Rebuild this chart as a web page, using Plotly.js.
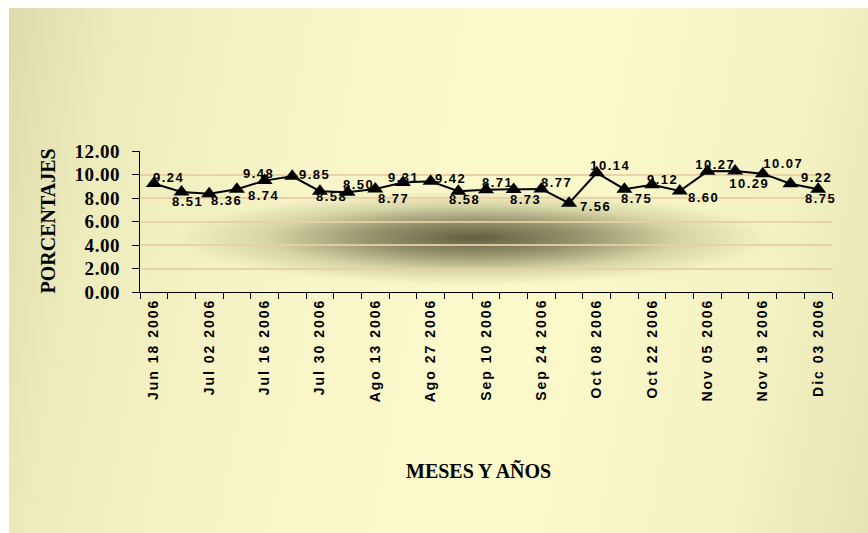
<!DOCTYPE html>
<html>
<head>
<meta charset="utf-8">
<script src="https://cdn.plot.ly/plotly-3.0.1.min.js"></script>
<style>
  html, body { margin: 0; padding: 0; background: #ffffff; }
  #wrap { position: relative; width: 868px; height: 533px; overflow: hidden; background: #ffffff; }
  #bg {
    position: absolute; left: 9px; top: 8px; width: 859px; height: 525px;
    background:
      radial-gradient(ellipse 345px 55px at 465px 230px, rgba(85,82,55,0.92) 0%, rgba(110,106,72,0.72) 30%, rgba(170,166,120,0.42) 60%, rgba(230,228,180,0.1) 85%, rgba(240,238,190,0) 100%),
      linear-gradient(100deg, #dcdbab 0%, #eeecbc 12%, #f8f6c9 35%, #fcfacb 60%, #f4f2c3 85%, #e6e4b5 100%);
  }
  #chart { position: absolute; left: 0; top: 0; width: 868px; height: 533px; }
  .xtick text { letter-spacing: 2px; }
  .ytick text { letter-spacing: 0.6px; }
  .annotation text { letter-spacing: 1.5px; }
  .annotation[data-index="0"] text, .annotation[data-index="1"] text { letter-spacing: 0px; }
</style>
</head>
<body>
<div id="wrap">
  <div id="bg"></div>
  <div id="chart"></div>
</div>
<script>
// Weekly categories (Jun 18 2006 – Dic 03 2006)
const weeks = [
  "Jun 18 2006", "Jun 25 2006", "Jul 02 2006", "Jul 09 2006", "Jul 16 2006",
  "Jul 23 2006", "Jul 30 2006", "Ago 06 2006", "Ago 13 2006", "Ago 20 2006",
  "Ago 27 2006", "Sep 03 2006", "Sep 10 2006", "Sep 17 2006", "Sep 24 2006",
  "Oct 01 2006", "Oct 08 2006", "Oct 15 2006", "Oct 22 2006", "Oct 29 2006",
  "Nov 05 2006", "Nov 12 2006", "Nov 19 2006", "Nov 26 2006", "Dic 03 2006"
];
// Labels shown on the x axis (every other week)
const tickLabels = [
  "Jun 18 2006", "", "Jul 02 2006", "", "Jul 16 2006",
  "", "Jul 30 2006", "", "Ago 13 2006", "",
  "Ago 27 2006", "", "Sep 10 2006", "", "Sep 24 2006",
  "", "Oct 08 2006", "", "Oct 22 2006", "",
  "Nov 05 2006", "", "Nov 19 2006", "", "Dic 03 2006"
];
// Percentages
const porcentajes = [
  9.24, 8.51, 8.36, 8.74, 9.48,
  9.85, 8.58, 8.50, 8.77, 9.31,
  9.42, 8.58, 8.71, 8.73, 8.77,
  7.56, 10.14, 8.75, 9.12, 8.60,
  10.27, 10.29, 10.07, 9.22, 8.75
];
const yTicks = [0, 2, 4, 6, 8, 10, 12];

// Data-label offsets (px) from each point, as placed in the original
const labelDx = [15, 6, 17, 27, -6, 22, 12, 11, 18, 1, 20, 6, 11, 12, 15, 26, 14, 12, 10, 24, 8, 14, 21, 26, 2];
const labelDy = [-6, 9, 7, 6, -7, -2, 5, -8, 10, -5, -3, 8, -7, 10, -6, 3, -7, 9, -5, 7, -7, 12, -10, -6, 9];

const trace = {
  type: "scatter",
  mode: "lines+markers",
  x: weeks,
  y: porcentajes,
  line: { color: "#000000", width: 2 },
  marker: { symbol: "triangle-up", size: 14, color: "#000000" },
  cliponaxis: false,
  hoverinfo: "x+y"
};

const titleFont = { family: "Liberation Serif, Times New Roman, serif", size: 20, color: "#000000", weight: "bold" };
const annotations = [
  {
    text: "PORCENTAJES", xref: "paper", yref: "paper",
    x: (47 - 140) / 692, y: 0.5, xanchor: "center", yanchor: "middle",
    textangle: -90, showarrow: false, font: titleFont
  },
  {
    text: "MESES Y AÑOS", xref: "paper", yref: "paper",
    x: (478 - 140) / 692, y: 0, yshift: -179, xanchor: "center", yanchor: "middle",
    showarrow: false, font: titleFont
  }
];
porcentajes.forEach((v, i) => {
  annotations.push({
    x: weeks[i], y: v, xref: "x", yref: "y",
    text: v.toFixed(2), showarrow: false,
    xanchor: "center", yanchor: "middle",
    xshift: labelDx[i], yshift: -labelDy[i],
    font: { family: "Liberation Sans, Arial, sans-serif", size: 13, color: "#000000", weight: "bold" }
  });
});

const layout = {
  width: 868, height: 533,
  margin: { l: 140, r: 36, t: 151, b: 241 },
  paper_bgcolor: "rgba(0,0,0,0)",
  plot_bgcolor: "rgba(0,0,0,0)",
  showlegend: false,
  xaxis: {
    type: "category",
    range: [-0.5, 24.5],
    tickmode: "array",
    tickvals: weeks,
    ticktext: tickLabels,
    tickson: "boundaries",
    tickangle: -90,
    ticks: "outside", ticklen: 6, tickcolor: "#000000",
    showline: true, linecolor: "#000000", linewidth: 1,
    showgrid: false, zeroline: false,
    tickfont: { family: "Liberation Sans, Arial, sans-serif", size: 14, color: "#000000", weight: "bold" },
    automargin: false
  },
  yaxis: {
    range: [0, 12],
    tickmode: "array",
    tickvals: yTicks,
    tickformat: ".2f",
    ticks: "outside", ticklen: 7, tickcolor: "#000000",
    ticklabelstandoff: 8,
    showline: true, linecolor: "#000000", linewidth: 1,
    showgrid: true, gridcolor: "rgba(232,205,165,0.9)", gridwidth: 2,
    zeroline: false,
    tickfont: { family: "Liberation Serif, Times New Roman, serif", size: 19, color: "#000000", weight: "bold" },
    automargin: false
  },
  annotations: annotations
};

Plotly.newPlot("chart", [trace], layout, { displayModeBar: false, staticPlot: true });
</script>
</body>
</html>
